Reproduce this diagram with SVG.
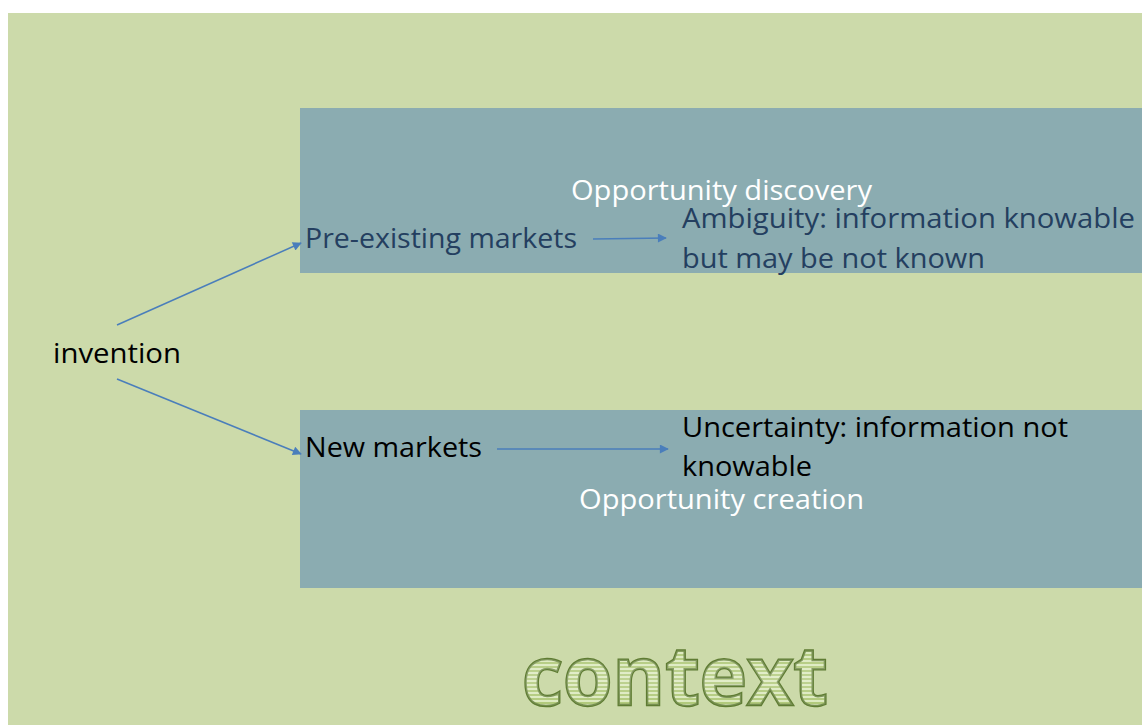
<svg xmlns="http://www.w3.org/2000/svg" width="1142" height="725" viewBox="0 0 1142 725">
  <style>
    .lbl { font-family: "Open Sans", "Noto Sans", "Liberation Sans", sans-serif; font-size: 28px; }
    .white { fill: #ffffff; }
    .navy { fill: #243f60; }
    .black { fill: #000000; }
    .band { fill: #8bacb1; }
    .conn { stroke: #4a7ebb; stroke-width: 1.5; fill: none; marker-end: url(#arrow); }
    .word { font-family: "Open Sans", "Noto Sans", sans-serif; font-weight: bold; font-size: 82px; }
  </style>
  <defs>
    <marker id="arrow" viewBox="0 0 10 10" refX="9" refY="5" markerWidth="11" markerHeight="9" markerUnits="userSpaceOnUse" orient="auto">
      <path d="M0,0 L10,5 L0,10 z" fill="#4a7ebb"/>
    </marker>
    <pattern id="stripes" width="8" height="4" patternUnits="userSpaceOnUse">
      <rect width="8" height="4" fill="#a3c064"/>
      <rect width="8" height="2" fill="#d6e6b4"/>
    </pattern>
    <linearGradient id="shine" x1="0" y1="0" x2="0" y2="1">
      <stop offset="0" stop-color="#ffffff" stop-opacity="0"/>
      <stop offset="0.55" stop-color="#ffffff" stop-opacity="0.3"/>
      <stop offset="1" stop-color="#ffffff" stop-opacity="0"/>
    </linearGradient>
  </defs>

  <!-- page -->
  <rect x="0" y="0" width="1142" height="725" fill="#ffffff"/>
  <rect id="background" x="8" y="13" width="1134" height="712" fill="#ccdaaa"/>

  <!-- bands -->
  <g id="discovery-band">
    <rect class="band" x="300" y="108" width="842" height="165"/>
    <text class="lbl white" x="571" y="200" textLength="301" lengthAdjust="spacingAndGlyphs">Opportunity discovery</text>
  </g>
  <g id="creation-band">
    <rect class="band" x="300" y="410" width="842" height="178"/>
    <text class="lbl white" x="579" y="509" textLength="285" lengthAdjust="spacingAndGlyphs">Opportunity creation</text>
  </g>

  <!-- nodes -->
  <g id="invention">
    <text class="lbl black" x="53" y="363" textLength="128" lengthAdjust="spacingAndGlyphs">invention</text>
  </g>
  <g id="pre-existing-markets">
    <text class="lbl navy" x="305" y="248" textLength="272" lengthAdjust="spacingAndGlyphs">Pre-existing markets</text>
  </g>
  <g id="ambiguity">
    <text class="lbl navy" x="682" y="228" textLength="453" lengthAdjust="spacingAndGlyphs">Ambiguity: information knowable</text>
    <text class="lbl navy" x="682" y="268" textLength="303" lengthAdjust="spacingAndGlyphs">but may be not known</text>
  </g>
  <g id="new-markets">
    <text class="lbl black" x="305" y="457" textLength="177" lengthAdjust="spacingAndGlyphs">New markets</text>
  </g>
  <g id="uncertainty">
    <text class="lbl black" x="682" y="437" textLength="386" lengthAdjust="spacingAndGlyphs">Uncertainty: information not</text>
    <text class="lbl black" x="682" y="476" textLength="130" lengthAdjust="spacingAndGlyphs">knowable</text>
  </g>

  <!-- connectors -->
  <g id="connectors">
    <line class="conn" x1="117" y1="325" x2="301" y2="243"/>
    <line class="conn" x1="117" y1="379" x2="301" y2="454"/>
    <line class="conn" x1="593" y1="239" x2="666" y2="238"/>
    <line class="conn" x1="497" y1="449" x2="668" y2="449"/>
  </g>

  <!-- title word -->
  <g id="context">
    <text class="word" x="522" y="705" textLength="306" lengthAdjust="spacingAndGlyphs" fill="url(#stripes)" stroke="#5f7c33" stroke-width="2.5">context</text>
    <text class="word" x="522" y="705" textLength="306" lengthAdjust="spacingAndGlyphs" fill="url(#shine)">context</text>
  </g>
</svg>
